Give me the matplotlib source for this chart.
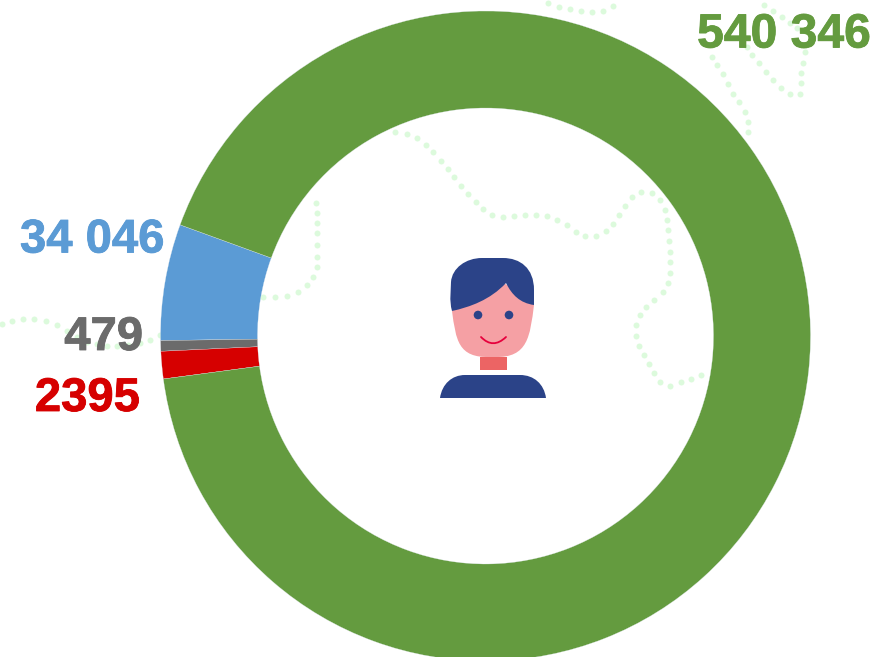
import matplotlib
matplotlib.use('Agg')
import matplotlib.pyplot as plt
import matplotlib.patheffects as pe
from matplotlib.patches import PathPatch, Circle, Rectangle
from matplotlib.path import Path

W, H = 874, 657

# slices, starting at the upper edge of the blue one and going counterclockwise
slice_names = ['blue', 'gray', 'red', 'green']
slice_degrees = [20.8, 1.9, 4.9, 332.4]
slice_colors = ['#5b9bd5', '#6b6b6b', '#d60000', '#649b3f']

# labels
label_texts = ['540 346', '34 046', '479', '2395']
label_colors = ['#649b3f', '#5b9bd5', '#6b6b6b', '#d60000']

# dots of the background trail, picture pixels
trail_dots = [(2, 324), (12, 321), (23, 319), (34, 319), (46, 321), (57, 325), (67, 331),
              (77, 337), (87, 342), (97, 344), (107, 346), (117, 346), (128, 345), (140, 343),
              (150, 340), (160, 335), (263, 297), (275, 297), (287, 296), (298, 292),
              (307, 285), (313, 277), (317, 267), (317, 257), (317, 245), (317, 233), (317, 223),
              (317, 213), (316, 203), (395, 132), (407, 134), (417, 138),
              (426, 145), (433, 152), (441, 161), (448, 169), (454, 177), (461, 186), (468, 194),
              (476, 202), (483, 209), (492, 215), (503, 217), (514, 216), (525, 215), (536, 215),
              (547, 216), (557, 220), (567, 225), (576, 232), (585, 236), (596, 236), (606, 231),
              (613, 224), (619, 215), (625, 206), (632, 197), (641, 192), (652, 193), (660, 200),
              (665, 210), (667, 220), (668, 230), (669, 241), (670, 252), (670, 262), (670, 273),
              (668, 283), (663, 292), (654, 300), (646, 307), (640, 315), (636, 325), (636, 336),
              (639, 346), (644, 355), (649, 364), (654, 373), (660, 382), (670, 386), (681, 382),
              (691, 379), (701, 375), (748, 132), (748, 122), (745, 112),
              (739, 102), (733, 94), (728, 84), (723, 74), (717, 65), (712, 57), (747, 47),
              (752, 55), (759, 63), (766, 72), (773, 80), (781, 88), (790, 94), (800, 94),
              (801, 83), (801, 73), (803, 63), (805, 52), (764, 5), (773, 11), (782, 17),
              (790, 23), (797, 28),
              (548, 3), (559, 7), (570, 9), (581, 11), (592, 12), (603, 11), (613, 6)]

# person in the middle, picture pixels
neck_box = (480, 357, 27, 13)
eye_pts = [(478, 315), (509, 315)]


def py(y):
    return H - y


def curve(verts, codes):
    return Path([(x, py(y)) for x, y in verts], codes)


M, L, C3, C4, Z = Path.MOVETO, Path.LINETO, Path.CURVE3, Path.CURVE4, Path.CLOSEPOLY

plt.rcParams['font.family'] = ['Liberation Sans', 'DejaVu Sans']
fig = plt.figure(figsize=(W / 100, H / 100), dpi=100)
ax = fig.add_axes([0, 0, 1, 1])

# ring
wedges, _ = ax.pie(slice_degrees, colors=slice_colors, startangle=160, counterclock=True,
                   center=(485.5, py(336)), radius=325, frame=True,
                   wedgeprops=dict(width=97, edgecolor='#dfe8ee', linewidth=0.2))
for w in wedges:
    w.set_zorder(5)
ax.set_xlim(0, W)
ax.set_ylim(0, H)
ax.set_aspect('equal')
ax.axis('off')

ax.plot([p[0] for p in trail_dots], [py(p[1]) for p in trail_dots], linestyle='none', marker='o',
        ms=4.3, mfc='#dcfadc', mec='none', zorder=1)

# labels
label_pos = [(871, 47.5, 'right', 34.6), (20, 252.5, 'left', 34), (143, 350, 'right', 34), (140, 411, 'right', 34)]
for txt, col, (x, y, ha, fs) in zip(label_texts, label_colors, label_pos):
    ax.text(x, py(y), txt, color=col, fontsize=fs, fontweight='bold', ha=ha, va='baseline', zorder=2,
            path_effects=[pe.withStroke(linewidth=0.6, foreground=col)])

# face
face = curve([(452, 311), (456, 340), (458, 358), (490, 357), (495, 357), (528, 358), (530, 336),
              (534, 305), (534, 305), (500, 280), (452, 311), (452, 311)],
             [M, C4, C4, C4, L, C4, C4, C4, L, L, L, Z])
ax.add_patch(PathPatch(face, fc='#f5a0a4', ec='none', zorder=6))
ax.add_patch(Rectangle((neck_box[0], py(neck_box[1] + neck_box[3])), neck_box[2], neck_box[3],
                       fc='#ec6464', ec='none', zorder=6))

hair = curve([(452, 311), (449, 300), (451, 290), (451, 282), (452, 268), (466, 258), (482, 258),
              (503, 258), (520, 258), (534, 268), (534, 290), (534, 296), (534, 300), (534, 305),
              (520, 303), (512, 295), (506, 283), (490, 300), (470, 307), (452, 311), (452, 311)],
             [M, C4, C4, C4, C4, C4, C4, L, C4, C4, C4, C4, C4, C4, C4, C4, C4, C4, C4, C4, Z])
ax.add_patch(PathPatch(hair, fc='#2b4388', ec='none', zorder=7))

for x, y in eye_pts:
    ax.add_patch(Circle((x, py(y)), 4.3, fc='#2b4388', ec='none', zorder=7))

smile = curve([(481, 337), (493, 349.5), (506, 337)], [M, C3, C3])
ax.add_patch(PathPatch(smile, fc='none', ec='#e6003c', lw=1.3, capstyle='round', zorder=7))

shirt = curve([(440, 398), (442, 384), (452, 375), (465, 375), (520, 375), (534, 375), (544, 384),
               (546, 398), (440, 398)], [M, C4, C4, C4, L, C4, C4, C4, Z])
ax.add_patch(PathPatch(shirt, fc='#2b4388', ec='none', zorder=6))

fig.savefig('out.png', dpi=100, facecolor='white')
